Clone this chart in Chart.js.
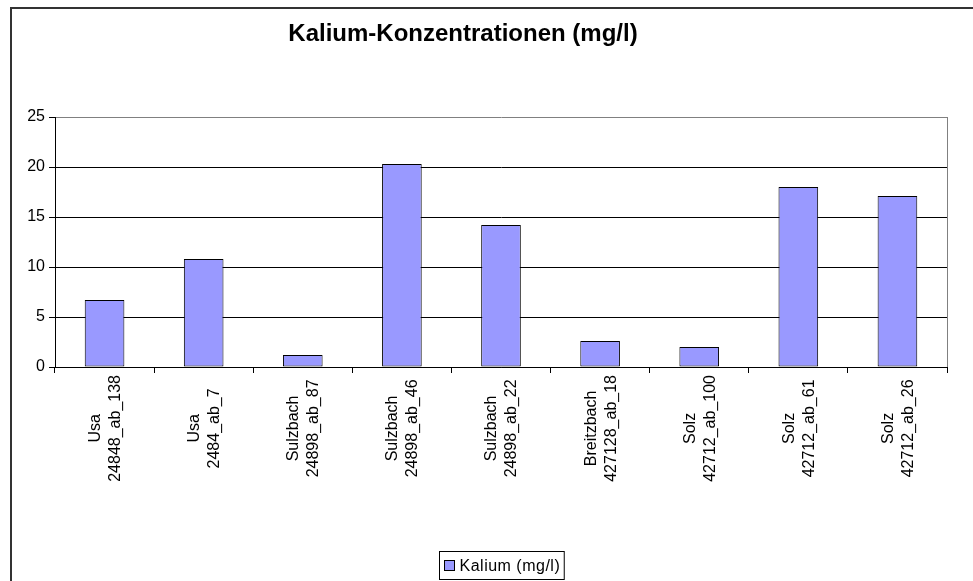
<!DOCTYPE html>
<html>
<head>
<meta charset="utf-8">
<script src="https://cdn.jsdelivr.net/npm/chart.js@4.4.0/dist/chart.umd.min.js"></script>
<style>
  html, body { margin: 0; padding: 0; background: #fff; }
  #wrap { position: relative; width: 973px; height: 581px; }
</style>
</head>
<body>
<div id="wrap"><canvas id="chart" width="973" height="581"></canvas></div>
<script>
// ── Data ─────────────────────────────────────────────────────────
const chartTitle = 'Kalium-Konzentrationen (mg/l)';
const seriesName = 'Kalium (mg/l)';
const sites   = ['Usa', 'Usa', 'Sulzbach', 'Sulzbach', 'Sulzbach', 'Breitzbach', 'Solz', 'Solz', 'Solz'];
const samples = ['24848_ab_138', '2484_ab_7', '24898_ab_87', '24898_ab_46', '24898_ab_22',
                 '427128_ab_18', '42712_ab_100', '42712_ab_61', '42712_ab_26'];
const kalium  = [6.7, 10.8, 1.2, 20.3, 14.2, 2.6, 2.0, 18.0, 17.1];
const yTicks  = [0, 5, 10, 15, 20, 25];

const labels = sites.map((s, i) => [s, samples[i]]);

const FONT = '"Liberation Sans", Arial, sans-serif';
const clr = {
  bar:    '#9999ff',
  barBrd: '#000000',
  grid:   '#000000',
  frame:  '#808080',
  text:   '#000000',
  outer:  '#333333',
};

// ── Decorations: outer frame, title, x labels, legend ─────────────
const excelLook = {
  id: 'excelLook',
  beforeDatasetsDraw(chart) {
    const { ctx, chartArea: a } = chart;
    ctx.save();
    ctx.strokeStyle = clr.frame;
    ctx.lineWidth = 1;
    ctx.beginPath();
    ctx.moveTo(Math.round(a.right) + 0.5, a.top);
    ctx.lineTo(Math.round(a.right) + 0.5, a.bottom);
    ctx.stroke();
    ctx.restore();
  },
  afterDraw(chart) {
    const { ctx, chartArea: a } = chart;
    const xs = chart.scales.x;
    ctx.save();

    // outer chart frame (only top and left visible in the crop)
    ctx.strokeStyle = clr.outer;
    ctx.lineWidth = 2;
    ctx.beginPath();
    ctx.moveTo(11, chart.height);
    ctx.lineTo(11, 8);
    ctx.lineTo(chart.width, 8);
    ctx.stroke();

    // title
    ctx.fillStyle = clr.text;
    ctx.font = 'bold 24px ' + FONT;
    ctx.textAlign = 'center';
    ctx.textBaseline = 'alphabetic';
    ctx.fillText(chartTitle, 463, 41);

    // x category labels, rotated, centred lines (Excel style)
    ctx.font = '16px ' + FONT;
    const lh = 20;
    let maxW = 0;
    labels.forEach(l => l.forEach(t => { maxW = Math.max(maxW, ctx.measureText(t).width); }));
    const cy = a.bottom + 8 + maxW / 2;
    labels.forEach((l, i) => {
      const cx = xs.getPixelForValue(i);
      l.forEach((t, j) => {
        const off = (j - (l.length - 1) / 2) * lh;
        ctx.save();
        ctx.translate(cx + off + 1, cy);
        ctx.rotate(-Math.PI / 2);
        ctx.textAlign = 'center';
        ctx.textBaseline = 'middle';
        ctx.fillText(t, 0, 0);
        ctx.restore();
      });
    });

    // legend box
    const ds = chart.data.datasets[0];
    ctx.font = '16px ' + FONT;
    ctx.letterSpacing = '0.5px';
    const tw = ctx.measureText(ds.label).width;
    const bw = 5 + 10 + 5 + tw + 4, bh = 28;
    const bx = Math.round((a.left + a.right) / 2 - bw / 2) + 0.5;
    const by = 551.5;
    ctx.lineWidth = 1;
    ctx.strokeStyle = '#000';
    ctx.strokeRect(bx, by, bw, bh);
    ctx.fillStyle = ds.backgroundColor;
    ctx.fillRect(bx + 5, by + 9, 10, 10);
    ctx.strokeRect(bx + 5, by + 9, 10, 10);
    ctx.fillStyle = clr.text;
    ctx.textAlign = 'left';
    ctx.textBaseline = 'middle';
    ctx.fillText(ds.label, bx + 20, by + bh / 2 + 1);

    ctx.restore();
  },
};

new Chart(document.getElementById('chart'), {
  type: 'bar',
  data: {
    labels,
    datasets: [{
      label: seriesName,
      data: kalium,
      backgroundColor: clr.bar,
      borderColor: clr.barBrd,
      borderWidth: 1,
      borderSkipped: false,
      barPercentage: 0.4,
      categoryPercentage: 1,
    }],
  },
  options: {
    responsive: false,
    animation: false,
    layout: { padding: { top: 117, left: 10, right: 26, bottom: 0 } },
    plugins: {
      legend: { display: false },
      title: { display: false },
      tooltip: { enabled: false },
    },
    scales: {
      x: {
        offset: true,
        afterFit: s => { s.height = 214; },
        grid: {
          offset: true,
          drawOnChartArea: false,
          drawTicks: true,
          tickLength: 6,
          tickColor: '#000',
          color: '#000',
        },
        border: { color: '#000', width: 1 },
        ticks: { display: false },
      },
      y: {
        min: 0,
        max: 25,
        afterFit: s => { s.width = 45; },
        afterBuildTicks: s => { s.ticks = yTicks.map(v => ({ value: v })); },
        grid: {
          color: c => (c.tick && c.tick.value === 25 ? clr.frame : clr.grid),
          tickColor: '#000',
          tickLength: 6,
          lineWidth: 1,
        },
        border: { color: '#000', width: 1 },
        ticks: {
          color: clr.text,
          padding: 4,
          font: { family: FONT, size: 16 },
        },
      },
    },
  },
  plugins: [excelLook],
});
</script>
</body>
</html>
